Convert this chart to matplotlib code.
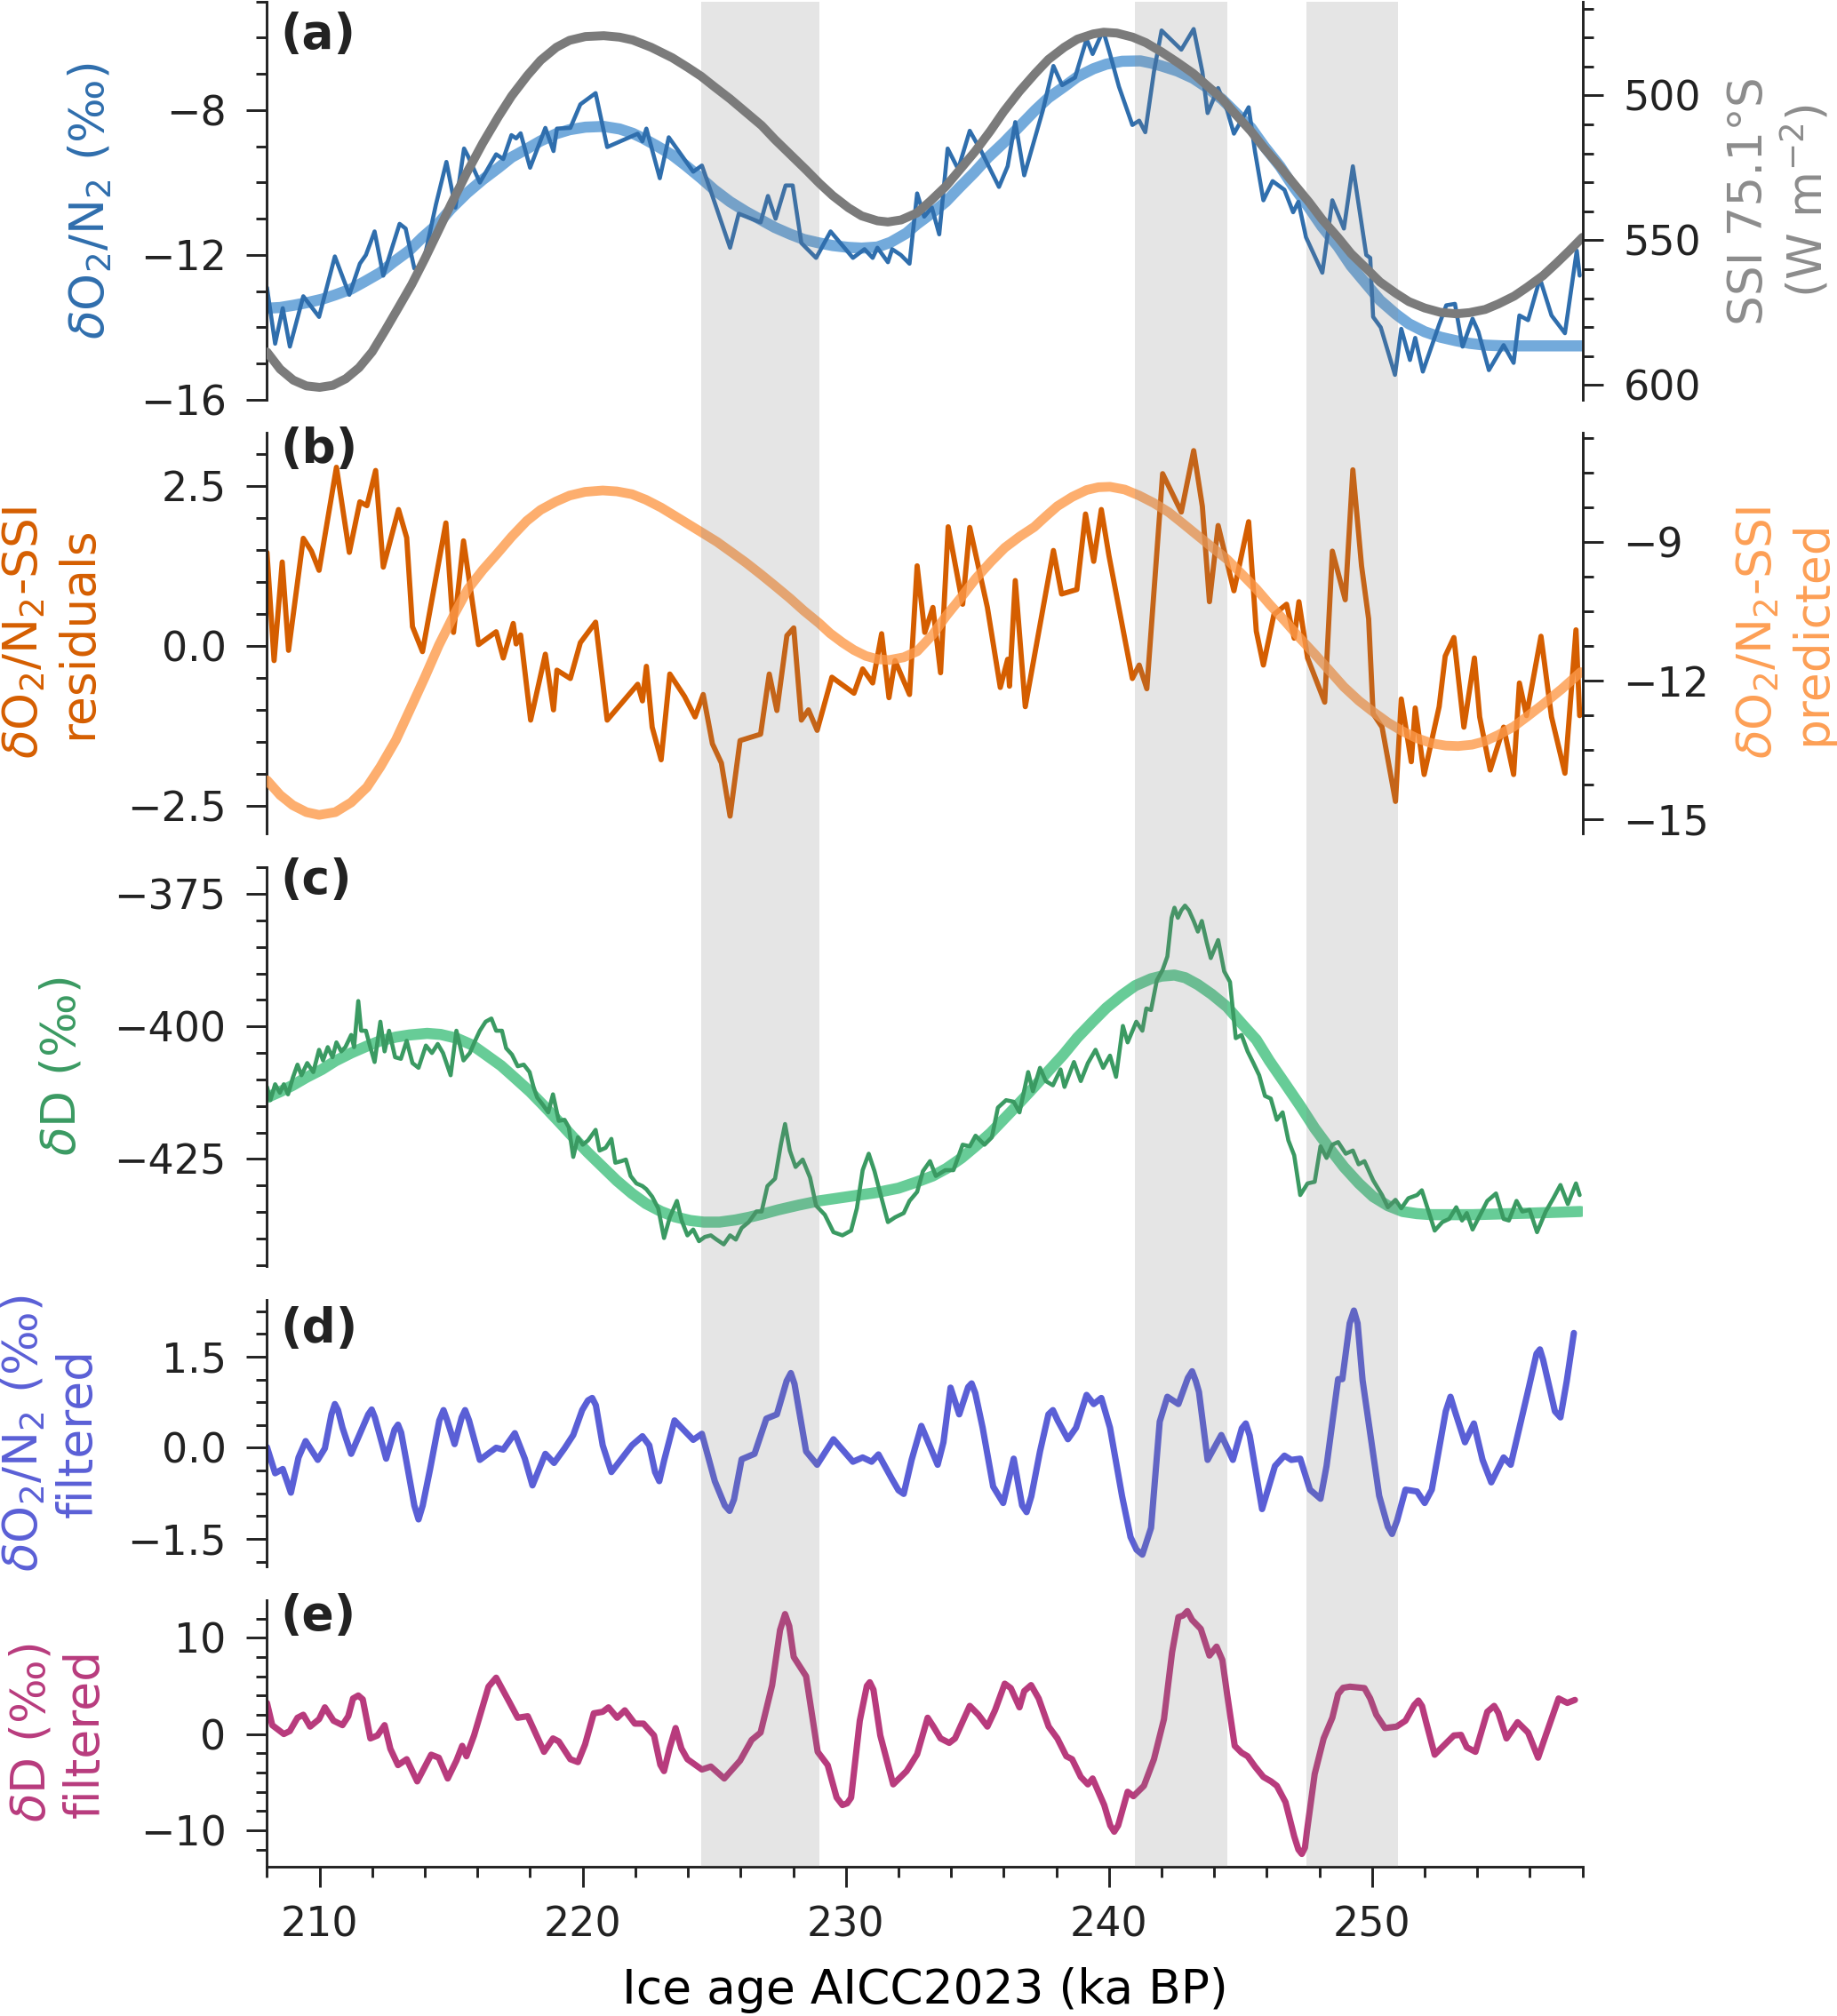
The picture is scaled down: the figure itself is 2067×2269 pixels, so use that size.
import numpy as np
import matplotlib
matplotlib.use("Agg")
import matplotlib.pyplot as plt
import matplotlib.transforms as mtransforms
from matplotlib.patches import Rectangle
from matplotlib.ticker import MultipleLocator

# ---- data (age in ka BP, value) ----
o2n2_meas = [(208.0, -12.90), (208.31, -14.45), (208.6, -13.47), (208.87, -14.53), (209.38, -13.14),
             (209.98, -13.71), (210.58, -12.04), (211.13, -13.10), (211.53, -12.24), (211.76, -12.0),
             (212.09, -11.35), (212.42, -12.57), (213.04, -11.14), (213.27, -11.27), (213.6, -12.37),
             (213.91, -12.33), (214.42, -10.61), (214.82, -9.43), (215.16, -10.69), (215.49, -9.06),
             (215.64, -9.27), (216.09, -10.0), (216.71, -9.22), (216.98, -9.35), (217.29, -8.69),
             (217.47, -8.78), (217.64, -8.64), (218.0, -9.59), (218.58, -8.49), (218.89, -9.13),
             (219.02, -8.51), (219.53, -8.49), (219.91, -7.84), (220.49, -7.53), (220.93, -9.02),
             (222.09, -8.65), (222.27, -8.86), (222.42, -8.51), (222.93, -9.88), (223.27, -8.75),
             (224.2, -9.70), (224.53, -9.53), (224.93, -10.37), (225.6, -11.80), (225.93, -10.86),
             (226.76, -11.10), (227.04, -10.37), (227.33, -11.0), (227.71, -10.08), (227.98, -10.08),
             (228.31, -11.67), (228.87, -12.08), (229.42, -11.35), (230.27, -12.08), (230.71, -11.84),
             (231.02, -12.08), (231.2, -11.80), (231.6, -12.2), (231.76, -11.84), (232.09, -12.0),
             (232.42, -12.24), (232.71, -10.3), (232.98, -10.94), (233.27, -10.69), (233.55, -11.43),
             (233.87, -9.06), (234.27, -9.63), (234.71, -8.57), (235.15, -9.14), (235.82, -10.12),
             (236.15, -9.55), (236.44, -8.33), (236.78, -9.80), (237.49, -8.0), (237.89, -6.78),
             (238.22, -7.31), (238.71, -7.10), (239.15, -6.04), (239.38, -6.45), (239.78, -5.80),
             (240.04, -6.45), (240.38, -7.35), (240.89, -8.41), (241.15, -8.29), (241.38, -8.61),
             (241.71, -6.94), (242.0, -5.80), (242.75, -6.33), (243.22, -5.76), (243.55, -6.94),
             (243.75, -8.08), (244.15, -7.39), (244.49, -8.0), (244.75, -8.65), (245.31, -7.92),
             (245.55, -9.14), (245.87, -10.49), (246.22, -9.96), (246.67, -10.2), (247.0, -10.82),
             (247.2, -10.53), (247.49, -11.51), (248.11, -12.49), (248.49, -10.49), (248.93, -11.27),
             (249.27, -9.55), (249.78, -12.0), (249.93, -12.08), (250.04, -13.71), (250.33, -14.0),
             (250.87, -15.31), (251.11, -14.04), (251.44, -14.90), (251.64, -14.29), (251.93, -15.22),
             (252.55, -13.92), (252.82, -13.39), (253.15, -13.35), (253.44, -14.53), (253.82, -13.76),
             (254.04, -14.12), (254.44, -15.18), (255.0, -14.49), (255.38, -14.98), (255.6, -13.67),
             (255.93, -13.80), (256.38, -12.65), (256.82, -13.67), (257.33, -14.16), (257.78, -11.88),
             (257.89, -12.57)]

o2n2_fit = [(208.0, -13.47), (208.5, -13.45), (209.0, -13.39), (209.5, -13.32), (210.1, -13.22),
            (210.6, -13.1), (211.2, -12.94), (211.7, -12.74), (212.3, -12.49), (212.8, -12.2),
            (213.4, -11.88), (213.9, -11.52), (214.5, -11.14), (215.0, -10.72), (215.6, -10.29),
            (216.2, -9.92), (216.8, -9.59), (217.3, -9.3), (217.9, -9.06), (218.4, -8.85),
            (219.0, -8.65), (219.5, -8.54), (220.1, -8.47), (220.8, -8.45), (221.4, -8.52),
            (221.9, -8.64), (222.3, -8.78), (222.8, -8.98), (223.4, -9.24), (223.9, -9.52),
            (224.5, -9.88), (225.0, -10.2), (225.6, -10.53), (226.2, -10.8), (226.8, -11.04),
            (227.3, -11.24), (227.9, -11.43), (228.4, -11.57), (229.0, -11.67), (229.5, -11.74),
            (230.1, -11.79), (230.6, -11.81), (231.2, -11.78), (231.7, -11.65), (232.3, -11.4),
            (232.7, -11.15), (233.2, -10.88), (233.8, -10.53), (234.3, -10.15), (234.9, -9.71),
            (235.4, -9.31), (236.0, -8.9), (236.6, -8.45), (237.2, -8.0), (237.7, -7.66),
            (238.3, -7.35), (238.8, -7.08), (239.4, -6.86), (239.9, -6.73), (240.5, -6.65),
            (241.2, -6.64), (241.6, -6.7), (242.0, -6.78), (242.6, -6.92), (243.2, -7.12),
            (243.7, -7.36), (244.3, -7.7), (244.8, -8.06), (245.4, -8.49), (245.9, -9.0),
            (246.5, -9.55), (247.0, -10.1), (247.6, -10.69), (248.1, -11.22), (248.7, -11.76),
            (249.2, -12.3), (249.8, -12.82), (250.3, -13.25), (250.9, -13.63), (251.4, -13.9),
            (252.0, -14.12), (252.6, -14.27), (253.2, -14.37), (253.7, -14.44), (254.3, -14.49),
            (255.0, -14.51), (256.0, -14.51), (258.0, -14.51)]

ssi = [(208.0, 588.6), (208.5, 594.5), (209.0, 598.3), (209.5, 600.3), (210.0, 600.8),
       (210.5, 600.1), (211.0, 597.8), (211.5, 594.0), (212.0, 588.5), (212.5, 581.0),
       (213.0, 573.2), (213.5, 565.3), (214.0, 556.4), (214.5, 547.0), (215.0, 537.5),
       (215.6, 526.6), (216.2, 516.5), (216.8, 507.3), (217.3, 500.2), (217.9, 493.1),
       (218.4, 487.9), (219.0, 483.4), (219.5, 481.0), (220.1, 479.7), (220.8, 479.4),
       (221.4, 479.9), (221.9, 480.9), (222.6, 483.4), (223.4, 487.0), (224.0, 490.4),
       (224.5, 493.4), (225.0, 497.0), (225.6, 501.2), (226.2, 505.8), (226.8, 510.4),
       (227.3, 515.2), (227.9, 520.5), (228.5, 525.8), (229.0, 530.4), (229.5, 534.6),
       (230.1, 538.8), (230.6, 541.6), (231.2, 543.3), (231.6, 543.7), (232.1, 543.0),
       (232.7, 540.6), (233.2, 536.6), (233.8, 531.4), (234.3, 526.0), (234.9, 519.5),
       (235.5, 512.2), (236.0, 505.6), (236.6, 498.6), (237.2, 492.4), (237.7, 487.6),
       (238.3, 483.4), (238.8, 480.6), (239.4, 478.8), (239.8, 478.2), (240.3, 478.5),
       (240.9, 479.9), (241.4, 481.8), (242.0, 485.0), (242.6, 488.6), (243.2, 492.4),
       (243.7, 496.4), (244.3, 501.2), (244.8, 506.4), (245.4, 512.4), (245.9, 518.2),
       (246.5, 524.6), (247.0, 530.2), (247.6, 536.8), (248.1, 542.8), (248.7, 549.0),
       (249.2, 554.6), (249.8, 559.9), (250.3, 564.4), (250.9, 568.3), (251.4, 571.2),
       (252.0, 573.4), (252.6, 574.9), (253.2, 575.4), (253.7, 575.0), (254.3, 573.9),
       (254.8, 572.0), (255.4, 569.3), (255.9, 566.2), (256.5, 562.2), (257.0, 558.0),
       (257.5, 553.6), (258.0, 549.0)]

resid = [(208.0, 1.46), (208.27, -0.23), (208.58, 1.31), (208.82, -0.07), (209.38, 1.68),
         (209.69, 1.48), (209.98, 1.18), (210.64, 2.79), (211.13, 1.46), (211.53, 2.25),
         (211.8, 2.19), (212.13, 2.74), (212.42, 1.23), (213.0, 2.13), (213.31, 1.69),
         (213.53, 0.30), (213.91, -0.09), (214.8, 1.92), (215.09, 0.21), (215.47, 1.64),
         (216.04, 0.02), (216.71, 0.22), (216.98, -0.19), (217.36, 0.35), (217.47, 0.03),
         (217.64, 0.17), (218.02, -1.16), (218.58, -0.13), (218.89, -1.0), (219.02, -0.38),
         (219.53, -0.51), (219.91, 0.05), (220.49, 0.37), (220.93, -1.16), (222.09, -0.60),
         (222.27, -0.86), (222.42, -0.32), (222.64, -1.27), (222.98, -1.78), (223.31, -0.44),
         (223.87, -0.79), (224.27, -1.11), (224.58, -0.76), (224.93, -1.53), (225.27, -1.83),
         (225.6, -2.66), (225.98, -1.48), (226.76, -1.38), (227.09, -0.44), (227.38, -1.01),
         (227.76, 0.16), (228.02, 0.28), (228.31, -1.16), (228.58, -1.0), (228.91, -1.32),
         (229.47, -0.49), (230.31, -0.74), (230.64, -0.36), (231.02, -0.58), (231.36, 0.19),
         (231.64, -0.81), (231.87, -0.23), (232.42, -0.76), (232.71, 1.25), (233.0, 0.21),
         (233.31, 0.6), (233.6, -0.42), (233.89, 1.86), (234.44, 0.65), (234.71, 1.85),
         (235.38, 0.6), (235.87, -0.65), (236.15, -0.21), (236.22, -0.63), (236.44, 1.02),
         (236.82, -0.95), (237.89, 1.49), (238.2, 0.81), (238.78, 0.88), (239.11, 2.06),
         (239.42, 1.32), (239.71, 2.13), (240.0, 1.41), (240.89, -0.51), (241.15, -0.30),
         (241.44, -0.67), (242.04, 2.69), (242.75, 2.09), (243.22, 3.05), (243.55, 2.18),
         (243.82, 0.69), (244.15, 1.88), (244.75, 0.86), (245.31, 1.94), (245.6, 0.23),
         (245.87, -0.30), (246.27, 0.49), (246.75, 0.65), (247.04, 0.12), (247.22, 0.69),
         (247.55, -0.19), (248.2, -0.88), (248.49, 1.48), (248.98, 0.72), (249.27, 2.75),
         (249.6, 1.25), (249.87, 0.42), (250.04, -1.06), (250.38, -1.27), (250.89, -2.43),
         (251.11, -0.83), (251.49, -1.81), (251.64, -0.97), (251.98, -2.01), (252.55, -0.95),
         (252.78, -0.16), (253.11, 0.13), (253.49, -1.27), (253.89, -0.19), (254.09, -1.11),
         (254.49, -1.94), (255.0, -1.27), (255.38, -2.01), (255.6, -0.58), (255.87, -1.09),
         (256.42, 0.15), (256.82, -1.11), (257.33, -1.99), (257.75, 0.25), (257.89, -1.09)]

predicted = [(208.0, -14.15), (208.5, -14.47), (208.98, -14.69), (209.5, -14.84), (209.98, -14.90),
             (210.6, -14.84), (211.2, -14.63), (211.8, -14.3), (212.31, -13.86), (212.9, -13.28),
             (213.42, -12.64), (214.0, -11.92), (214.53, -11.23), (215.1, -10.58), (215.64, -10.01),
             (216.2, -9.6), (216.76, -9.24), (217.3, -8.88), (217.87, -8.54), (218.4, -8.3),
             (218.98, -8.12), (219.5, -7.99), (220.09, -7.91), (220.76, -7.88), (221.3, -7.9),
             (221.87, -7.96), (222.4, -8.08), (222.98, -8.25), (223.7, -8.5), (224.53, -8.79),
             (225.1, -8.99), (225.64, -9.21), (226.2, -9.44), (226.76, -9.69), (227.3, -9.94),
             (227.87, -10.21), (228.4, -10.48), (228.98, -10.75), (229.4, -10.97), (229.87, -11.17),
             (230.3, -11.33), (230.76, -11.46), (231.2, -11.53), (231.64, -11.55), (232.2, -11.49),
             (232.71, -11.36), (233.3, -11.0), (233.82, -10.59), (234.4, -10.18), (234.93, -9.79),
             (235.5, -9.43), (236.04, -9.12), (236.6, -8.88), (237.16, -8.67), (237.6, -8.44),
             (238.04, -8.22), (238.6, -8.02), (239.15, -7.87), (239.6, -7.81), (240.04, -7.80),
             (240.6, -7.86), (241.15, -7.99), (241.7, -8.15), (242.27, -8.35), (242.8, -8.59),
             (243.38, -8.86), (243.9, -9.1), (244.49, -9.37), (245.0, -9.66), (245.6, -10.01),
             (246.1, -10.34), (246.71, -10.72), (247.2, -11.04), (247.82, -11.42), (248.4, -11.79),
             (248.93, -12.13), (249.5, -12.43), (250.04, -12.67), (250.6, -12.9), (251.16, -13.09),
             (251.7, -13.24), (252.27, -13.35), (252.8, -13.4), (253.27, -13.41), (253.8, -13.38),
             (254.27, -13.31), (254.8, -13.17), (255.38, -12.99), (255.9, -12.77), (256.49, -12.51),
             (257.2, -12.18), (257.93, -11.81)]

dD_fit = [(208.0, -413.4), (208.5, -412.3), (208.98, -411.1), (209.5, -409.6), (210.09, -408.1),
          (210.6, -406.5), (211.2, -405.0), (211.8, -403.7), (212.31, -402.7), (212.9, -402.0),
          (213.42, -401.6), (214.09, -401.3), (214.6, -401.5), (215.2, -402.2), (215.8, -403.5),
          (216.31, -405.3), (216.9, -407.4), (217.42, -409.7), (218.0, -412.3), (218.53, -415.0),
          (219.1, -418.0), (219.64, -420.9), (220.2, -423.8), (220.76, -426.5), (221.3, -429.1),
          (221.87, -431.5), (222.4, -433.4), (222.98, -434.9), (223.5, -435.9), (224.09, -436.6),
          (224.6, -436.9), (225.2, -436.9), (225.8, -436.5), (226.31, -436.0), (226.9, -435.3),
          (227.42, -434.6), (228.2, -433.7), (228.98, -432.9), (230.09, -432.1), (231.2, -431.3),
          (232.0, -430.5), (232.71, -429.3), (233.3, -428.2), (233.82, -426.8), (234.4, -424.8),
          (234.93, -422.6), (235.5, -420.1), (236.04, -417.3), (236.6, -414.4), (237.16, -411.4),
          (237.7, -408.4), (238.27, -405.3), (238.8, -402.1), (239.38, -399.1), (239.9, -396.5),
          (240.49, -394.1), (241.0, -392.3), (241.6, -391.0), (242.0, -390.5), (242.49, -390.3),
          (242.9, -390.8), (243.38, -392.1), (243.9, -393.9), (244.49, -396.3), (245.0, -399.2),
          (245.6, -402.5), (246.1, -406.5), (246.71, -410.9), (247.3, -415.2), (247.82, -419.2),
          (248.4, -423.1), (248.93, -426.5), (249.5, -429.6), (250.04, -432.1), (250.6, -433.8),
          (251.16, -434.9), (251.7, -435.3), (252.27, -435.5), (253.82, -435.5), (256.04, -435.2),
          (257.93, -434.9)]

dD_meas = [(208.0, -411.4), (208.13, -413.9), (208.31, -410.9), (208.49, -412.5), (208.64, -410.9),
           (208.8, -412.8), (208.98, -409.7), (209.16, -407.2), (209.31, -409.2), (209.53, -406.9),
           (209.76, -408.6), (209.98, -404.4), (210.13, -406.4), (210.31, -403.9), (210.49, -405.8),
           (210.64, -403.0), (210.82, -404.7), (210.98, -403.9), (211.2, -401.6), (211.31, -403.9),
           (211.47, -395.2), (211.58, -400.8), (211.76, -400.8), (211.91, -403.6), (212.09, -406.7),
           (212.31, -399.1), (212.47, -404.7), (212.64, -400.8), (212.87, -405.8), (213.09, -406.1),
           (213.31, -402.7), (213.53, -406.9), (213.76, -407.8), (214.04, -403.6), (214.27, -405.0),
           (214.49, -403.3), (214.69, -405.0), (214.98, -409.2), (215.2, -400.8), (215.47, -406.4),
           (215.71, -405.0), (215.91, -402.7), (216.09, -400.8), (216.31, -399.1), (216.53, -398.5),
           (216.71, -400.8), (216.93, -400.8), (217.09, -404.1), (217.31, -405.3), (217.53, -407.5),
           (217.76, -407.2), (217.98, -408.6), (218.13, -411.4), (218.27, -413.4), (218.49, -414.8),
           (218.69, -416.2), (218.87, -412.8), (219.09, -417.8), (219.31, -417.6), (219.47, -419.0),
           (219.64, -424.6), (219.82, -420.9), (220.0, -422.3), (220.2, -421.5), (220.49, -419.5),
           (220.64, -423.4), (220.87, -422.9), (221.09, -421.2), (221.24, -425.7), (221.47, -425.4),
           (221.64, -425.1), (221.82, -428.2), (222.04, -429.6), (222.27, -430.1), (222.42, -430.7),
           (222.64, -432.1), (222.87, -434.3), (223.09, -439.9), (223.31, -436.0), (223.58, -432.9),
           (223.76, -436.6), (223.98, -439.4), (224.2, -438.3), (224.42, -440.5), (224.64, -439.7),
           (224.87, -439.4), (225.09, -440.2), (225.36, -441.1), (225.6, -439.4), (225.82, -440.2),
           (226.04, -438.0), (226.31, -436.9), (226.6, -434.9), (226.8, -434.9), (227.02, -430.1),
           (227.31, -428.7), (227.53, -422.3), (227.69, -418.4), (227.87, -423.4), (228.09, -426.5),
           (228.36, -425.1), (228.64, -428.5), (228.87, -433.8), (229.2, -435.5), (229.53, -438.8),
           (229.87, -439.4), (230.2, -438.5), (230.42, -434.3), (230.64, -427.1), (230.87, -424.0),
           (231.09, -427.3), (231.31, -431.5), (231.6, -436.9), (231.87, -436.0), (232.2, -435.2),
           (232.42, -432.9), (232.71, -431.2), (232.93, -427.3), (233.2, -425.4), (233.42, -428.2),
           (233.78, -427.1), (234.09, -427.1), (234.44, -422.3), (234.71, -422.6), (234.93, -420.6),
           (235.27, -422.3), (235.55, -420.9), (235.78, -415.3), (236.09, -413.9), (236.38, -414.2),
           (236.6, -416.2), (236.93, -408.6), (237.11, -412.2), (237.38, -407.8), (237.6, -410.3),
           (237.87, -411.1), (238.16, -408.1), (238.31, -411.4), (238.67, -406.7), (238.93, -410.3),
           (239.2, -406.9), (239.49, -404.4), (239.78, -407.8), (240.04, -405.5), (240.27, -409.5),
           (240.53, -399.9), (240.71, -403.0), (241.04, -399.1), (241.27, -400.8), (241.42, -396.6),
           (241.6, -396.9), (241.82, -391.3), (242.04, -389.3), (242.22, -386.8), (242.38, -379.5),
           (242.49, -377.6), (242.62, -379.5), (242.75, -378.1), (242.89, -377.2), (243.04, -378.1),
           (243.22, -380.1), (243.38, -382.1), (243.53, -380.1), (243.71, -384.0), (243.87, -387.1),
           (244.15, -383.7), (244.38, -389.6), (244.6, -391.6), (244.82, -402.2), (245.04, -401.6),
           (245.27, -404.7), (245.49, -406.9), (245.71, -409.2), (245.93, -413.1), (246.15, -413.6),
           (246.38, -417.6), (246.6, -416.2), (246.82, -421.5), (247.04, -424.3), (247.27, -431.8),
           (247.55, -429.6), (247.82, -429.3), (248.04, -422.6), (248.27, -424.8), (248.49, -422.3),
           (248.71, -421.8), (249.0, -424.0), (249.27, -423.4), (249.49, -426.0), (249.71, -425.4),
           (250.04, -429.0), (250.38, -431.8), (250.6, -434.1), (250.89, -432.7), (251.11, -434.3),
           (251.38, -432.4), (251.71, -431.8), (251.89, -430.9), (252.15, -434.9), (252.38, -438.5),
           (252.67, -436.9), (252.93, -436.3), (253.2, -434.1), (253.42, -436.6), (253.6, -435.2),
           (253.82, -438.3), (254.09, -435.7), (254.38, -432.9), (254.71, -431.5), (255.0, -436.3),
           (255.2, -436.6), (255.49, -432.9), (255.71, -434.9), (255.99, -434.6), (256.27, -438.8),
           (256.6, -434.9), (256.89, -432.4), (257.16, -429.9), (257.44, -433.5), (257.75, -429.6),
           (257.89, -431.8)]

o2n2_filt = [(208.0, 0.01), (208.31, -0.42), (208.6, -0.35), (208.91, -0.74), (209.2, -0.16),
             (209.47, 0.11), (209.93, -0.20), (210.2, -0.01), (210.45, 0.55), (210.58, 0.72),
             (210.7, 0.62), (210.87, 0.33), (211.2, -0.10), (211.53, 0.23), (211.85, 0.55),
             (211.98, 0.63), (212.1, 0.5), (212.53, -0.18), (212.85, 0.3), (212.98, 0.38),
             (213.1, 0.25), (213.31, -0.25), (213.6, -0.95), (213.76, -1.18), (213.92, -0.95),
             (214.2, -0.35), (214.55, 0.45), (214.71, 0.62), (214.85, 0.45), (215.13, 0.06),
             (215.4, 0.5), (215.53, 0.62), (215.68, 0.45), (216.09, -0.20), (216.71, 0.00),
             (216.98, -0.03), (217.42, 0.24), (217.8, -0.18), (218.09, -0.62), (218.58, -0.10),
             (218.91, -0.25), (219.31, -0.01), (219.64, 0.21), (219.98, 0.62), (220.2, 0.78),
             (220.36, 0.82), (220.5, 0.7), (220.76, 0.04), (221.09, -0.40), (221.87, 0.04),
             (222.27, 0.19), (222.53, 0.04), (222.75, -0.4), (222.91, -0.55), (223.1, -0.2),
             (223.49, 0.45), (224.2, 0.13), (224.53, 0.23), (225.02, -0.55), (225.4, -0.95),
             (225.58, -1.04), (225.75, -0.85), (226.04, -0.19), (226.53, -0.10), (226.98, 0.48),
             (227.38, 0.55), (227.75, 1.1), (227.91, 1.23), (228.05, 1.05), (228.49, -0.06),
             (228.91, -0.28), (229.53, 0.14), (230.27, -0.23), (230.64, -0.16), (230.98, -0.23),
             (231.24, -0.11), (231.76, -0.52), (232.0, -0.7), (232.2, -0.76), (232.5, -0.2),
             (232.87, 0.36), (233.49, -0.28), (233.71, 0.09), (233.98, 0.99), (234.31, 0.55),
             (234.65, 1.0), (234.78, 1.06), (234.92, 0.9), (235.2, 0.33), (235.6, -0.64),
             (235.98, -0.91), (236.38, -0.18), (236.7, -0.95), (236.87, -1.06), (237.05, -0.8),
             (237.38, -0.06), (237.7, 0.55), (237.87, 0.62), (238.05, 0.45), (238.44, 0.14),
             (238.75, 0.33), (239.15, 0.87), (239.42, 0.72), (239.71, 0.82), (240.04, 0.33),
             (240.5, -0.8), (240.82, -1.47), (241.05, -1.68), (241.27, -1.76), (241.6, -1.32),
             (241.93, 0.43), (242.22, 0.84), (242.64, 0.72), (243.0, 1.15), (243.16, 1.26),
             (243.3, 1.1), (243.42, 0.92), (243.75, -0.20), (244.27, 0.21), (244.71, -0.20),
             (245.05, 0.32), (245.2, 0.40), (245.35, 0.2), (245.82, -1.01), (246.31, -0.30),
             (246.67, -0.13), (246.93, -0.20), (247.27, -0.18), (247.64, -0.69), (248.04, -0.84),
             (248.27, -0.30), (248.71, 1.13), (248.87, 1.13), (249.15, 2.05), (249.31, 2.26),
             (249.45, 2.05), (249.64, 1.11), (250.27, -0.79), (250.6, -1.3), (250.76, -1.42),
             (250.95, -1.2), (251.27, -0.69), (251.71, -0.72), (252.0, -0.91), (252.27, -0.69),
             (252.8, 0.6), (252.98, 0.84), (253.15, 0.6), (253.53, 0.09), (253.87, 0.40),
             (254.2, -0.2), (254.53, -0.57), (255.0, -0.16), (255.27, -0.28), (255.93, 0.94),
             (256.25, 1.55), (256.38, 1.62), (256.5, 1.45), (256.95, 0.6), (257.16, 0.50),
             (257.4, 1.1), (257.67, 1.89)]

dD_filt = [(208.0, 3.23), (208.2, 0.92), (208.42, 0.46), (208.64, 0.0), (208.87, 0.31),
           (209.16, 1.69), (209.38, 2.0), (209.64, 0.77), (209.98, 1.54), (210.2, 2.77),
           (210.53, 1.38), (210.87, 0.92), (211.09, 1.85), (211.27, 3.69), (211.47, 4.0),
           (211.64, 3.6), (211.93, -0.46), (212.2, -0.15), (212.47, 0.92), (212.69, -1.54),
           (212.98, -3.23), (213.31, -2.62), (213.71, -4.92), (214.24, -2.15), (214.53, -2.46),
           (214.87, -4.62), (215.2, -2.77), (215.42, -1.23), (215.58, -2.31), (215.87, -0.15),
           (216.42, 4.92), (216.71, 5.85), (217.2, 3.38), (217.53, 1.69), (217.91, 1.85),
           (218.53, -1.85), (218.87, -0.46), (219.09, -0.77), (219.53, -2.62), (219.82, -2.92),
           (220.09, -1.08), (220.42, 2.15), (220.76, 2.31), (220.98, 2.77), (221.31, 1.69),
           (221.6, 2.46), (221.98, 1.08), (222.31, 1.08), (222.71, -0.15), (222.95, -3.2),
           (223.09, -3.85), (223.3, -1.5), (223.53, 0.62), (223.75, -1.5), (223.98, -2.62),
           (224.53, -3.69), (224.87, -3.38), (225.38, -4.62), (225.98, -2.77), (226.42, -0.62),
           (226.76, 0.15), (227.2, 5.08), (227.5, 10.8), (227.69, 12.46), (227.85, 11.2),
           (228.02, 8.0), (228.49, 6.0), (228.93, -1.85), (229.31, -3.23), (229.65, -6.6),
           (229.87, -7.38), (230.05, -7.2), (230.2, -6.62), (230.53, 1.38), (230.8, 5.0),
           (230.91, 5.38), (231.05, 4.6), (231.31, -0.15), (231.8, -5.23), (232.31, -3.85),
           (232.71, -2.1), (233.11, 1.69), (233.33, 0.77), (233.6, -0.46), (233.93, -0.92),
           (234.15, -0.46), (234.71, 2.92), (235.04, 2.0), (235.38, 0.77), (235.67, 2.46),
           (236.04, 5.23), (236.27, 4.77), (236.6, 2.77), (236.78, 4.46), (237.04, 5.08),
           (237.33, 3.69), (237.71, 0.77), (238.04, -0.46), (238.38, -2.31), (238.6, -2.62),
           (238.93, -4.46), (239.2, -5.23), (239.38, -4.62), (239.82, -7.38), (240.05, -9.5),
           (240.2, -10.15), (240.35, -9.5), (240.49, -8.15), (240.71, -6.0), (240.93, -6.46),
           (241.33, -5.38), (241.71, -2.62), (242.09, 1.54), (242.4, 8.5), (242.64, 12.15),
           (242.82, 12.31), (242.98, 12.77), (243.16, 11.85), (243.49, 10.92), (243.82, 8.15),
           (244.09, 9.08), (244.31, 7.69), (244.49, 4.15), (244.78, -1.23), (245.04, -1.94),
           (245.27, -2.31), (245.55, -3.38), (245.87, -4.46), (246.16, -4.92), (246.38, -5.38),
           (246.71, -7.08), (247.04, -10.62), (247.2, -12.0), (247.33, -12.46), (247.45, -11.8),
           (247.53, -10.0), (247.82, -4.15), (248.16, -0.46), (248.49, 1.69), (248.71, 4.15),
           (248.9, 4.8), (249.16, 4.92), (249.71, 4.77), (249.93, 3.69), (250.16, 2.0),
           (250.49, 0.62), (250.93, 0.77), (251.27, 1.38), (251.6, 3.0), (251.76, 3.48),
           (251.9, 2.9), (252.04, 1.38), (252.38, -2.15), (252.6, -1.54), (253.11, -0.15),
           (253.38, -0.09), (253.6, -1.38), (253.93, -1.85), (254.38, 2.31), (254.64, 2.92),
           (254.8, 2.2), (255.11, -0.46), (255.53, 1.23), (255.93, 0.15), (256.31, -2.46),
           (256.6, -0.15), (257.09, 3.69), (257.42, 3.23), (257.71, 3.54)]

shade_start = [224.5, 241.0, 247.5]
shade_end = [229.0, 244.5, 251.0]


def xy(series):
    arr = np.array(series)
    return arr[:, 0], arr[:, 1]


plt.rcParams.update({
    'font.family': ['DejaVu Sans'],
    'mathtext.fontset': 'dejavusans',
    'font.size': 11,
    'xtick.labelsize': 11,
    'ytick.labelsize': 11,
    'axes.labelsize': 12.8,
    'axes.linewidth': 0.7,
    'xtick.major.size': 5.5, 'ytick.major.size': 5.5,
    'xtick.minor.size': 2.8, 'ytick.minor.size': 2.8,
    'xtick.major.width': 0.7, 'ytick.major.width': 0.7,
    'xtick.minor.width': 0.7, 'ytick.minor.width': 0.7,
    'xtick.major.pad': 5.0, 'ytick.major.pad': 5.5,
    'text.color': '#222222', 'axes.edgecolor': '#222222',
    'xtick.color': '#222222', 'ytick.color': '#222222',
    'lines.solid_joinstyle': 'round',
    'lines.solid_capstyle': 'round',
})

W, H, DPI = 2067, 2269, 300
fig = plt.figure(figsize=(W / DPI, H / DPI), dpi=DPI)

LEFT, RIGHT = 300.4, 1780.7


def panel(top, bottom):
    return fig.add_axes([LEFT / W, 1 - bottom / H, (RIGHT - LEFT) / W, (bottom - top) / H])


def style(ax, show_x=False):
    ax.set_xlim(208, 258)
    ax.spines['top'].set_visible(False)
    ax.spines['right'].set_visible(False)
    ax.spines['bottom'].set_visible(show_x)
    ax.tick_params(axis='x', which='both', bottom=show_x, labelbottom=show_x)
    ax.patch.set_visible(False)


def twin(ax):
    t = ax.twinx()
    for s in ['left', 'top', 'bottom']:
        t.spines[s].set_visible(False)
    return t


def tag(ax, s, y):
    ax.text(0.010, y, s, transform=ax.transAxes, fontsize=12.8, fontweight='bold',
            va='top', ha='left')


ax_a = panel(1.7, 450)
ax_b = panel(487, 938)
ax_c = panel(975.7, 1425)
ax_d = panel(1462.7, 1762.7)
ax_e = panel(1800.7, 2100.7)

# (a)
style(ax_a)
x, y = xy(o2n2_fit)
ax_a.plot(x, y, color='#5b9bd5', lw=3.0, alpha=0.85)
x, y = xy(o2n2_meas)
ax_a.plot(x, y, color='#2f6ead', lw=1.1)
ax_a.set_ylim(-16, -5)
ax_a.yaxis.set_major_locator(MultipleLocator(4))
ax_a.yaxis.set_minor_locator(MultipleLocator(1))
ax_a.set_ylabel(r'$\delta$O$_2$/N$_2$ (‰)', color='#2f6ead')
ax_a.yaxis.set_label_coords(-0.116, 0.5)
tag(ax_a, '(a)', 0.975)

ax_a2 = twin(ax_a)
x, y = xy(ssi)
ax_a2.plot(x, y, color='#7b7b7b', lw=2.4)
ax_a2.set_ylim(605.1, 467.6)
ax_a2.yaxis.set_major_locator(MultipleLocator(50))
ax_a2.yaxis.set_minor_locator(MultipleLocator(10))
ax_a2.set_ylabel('SSI 75.1°S\n(W m$^{-2}$)', color='#8c8c8c')
ax_a2.yaxis.set_label_coords(1.109, 0.5)

# (b)
style(ax_b)
x, y = xy(resid)
ax_b.plot(x, y, color='#d55e00', lw=1.4)
ax_b.set_ylim(-2.93, 3.33)
ax_b.yaxis.set_major_locator(MultipleLocator(2.5))
ax_b.yaxis.set_minor_locator(MultipleLocator(0.5))
ax_b.set_ylabel('$\\delta$O$_2$/N$_2$-SSI\nresiduals', color='#d55e00')
ax_b.yaxis.set_label_coords(-0.126, 0.5)
tag(ax_b, '(b)', 1.0155)

ax_b2 = twin(ax_b)
x, y = xy(predicted)
ax_b2.plot(x, y, color='#fd9a4a', lw=2.6, alpha=0.8)
ax_b2.set_ylim(-15.3, -6.63)
ax_b2.yaxis.set_major_locator(MultipleLocator(3))
ax_b2.yaxis.set_minor_locator(MultipleLocator(0.75))
ax_b2.set_ylabel('$\\delta$O$_2$/N$_2$-SSI\npredicted', color='#fd9f55')
ax_b2.yaxis.set_label_coords(1.1157, 0.5)

# (c)
style(ax_c)
x, y = xy(dD_fit)
ax_c.plot(x, y, color='#4cc485', lw=3.0, alpha=0.85)
x, y = xy(dD_meas)
ax_c.plot(x, y, color='#3a9a62', lw=1.1)
ax_c.set_ylim(-445.2, -369.9)
ax_c.yaxis.set_major_locator(MultipleLocator(25))
ax_c.yaxis.set_minor_locator(MultipleLocator(5))
ax_c.set_ylabel(r'$\delta$D (‰)', color='#3a9a62')
ax_c.yaxis.set_label_coords(-0.1384, 0.5)
tag(ax_c, '(c)', 1.0238)

# (d)
style(ax_d)
x, y = xy(o2n2_filt)
ax_d.plot(x, y, color='#5a5fd6', lw=1.7)
ax_d.set_ylim(-1.95, 2.44)
ax_d.yaxis.set_major_locator(MultipleLocator(1.5))
ax_d.yaxis.set_minor_locator(MultipleLocator(0.375))
ax_d.set_ylabel('$\\delta$O$_2$/N$_2$ (‰)\nfiltered', color='#5a5fd6')
ax_d.yaxis.set_label_coords(-0.126, 0.5)
tag(ax_d, '(d)', 0.9757)

# (e)
style(ax_e, show_x=True)
x, y = xy(dD_filt)
ax_e.plot(x, y, color='#b83b7d', lw=1.7)
ax_e.set_ylim(-13.76, 13.93)
ax_e.yaxis.set_major_locator(MultipleLocator(10))
ax_e.yaxis.set_minor_locator(MultipleLocator(2))
ax_e.xaxis.set_major_locator(MultipleLocator(10))
ax_e.xaxis.set_minor_locator(MultipleLocator(2))
ax_e.set_ylabel('$\\delta$D (‰)\nfiltered', color='#b83b7d')
ax_e.yaxis.set_label_coords(-0.1205, 0.5)
ax_e.set_xlabel('Ice age AICC2023 (ka BP)', labelpad=6)
tag(ax_e, '(e)', 1.0257)

# shaded intervals spanning all panels
span_bottom = ax_e.get_position().y0
span_top = ax_a.get_position().y1
trans = mtransforms.blended_transform_factory(ax_e.transData, fig.transFigure)
for s0, s1 in zip(shade_start, shade_end):
    fig.add_artist(Rectangle((s0, span_bottom), s1 - s0, span_top - span_bottom,
                             transform=trans, facecolor='gray', alpha=0.2,
                             edgecolor='none', zorder=5))

fig.savefig('out.png', dpi=DPI)
